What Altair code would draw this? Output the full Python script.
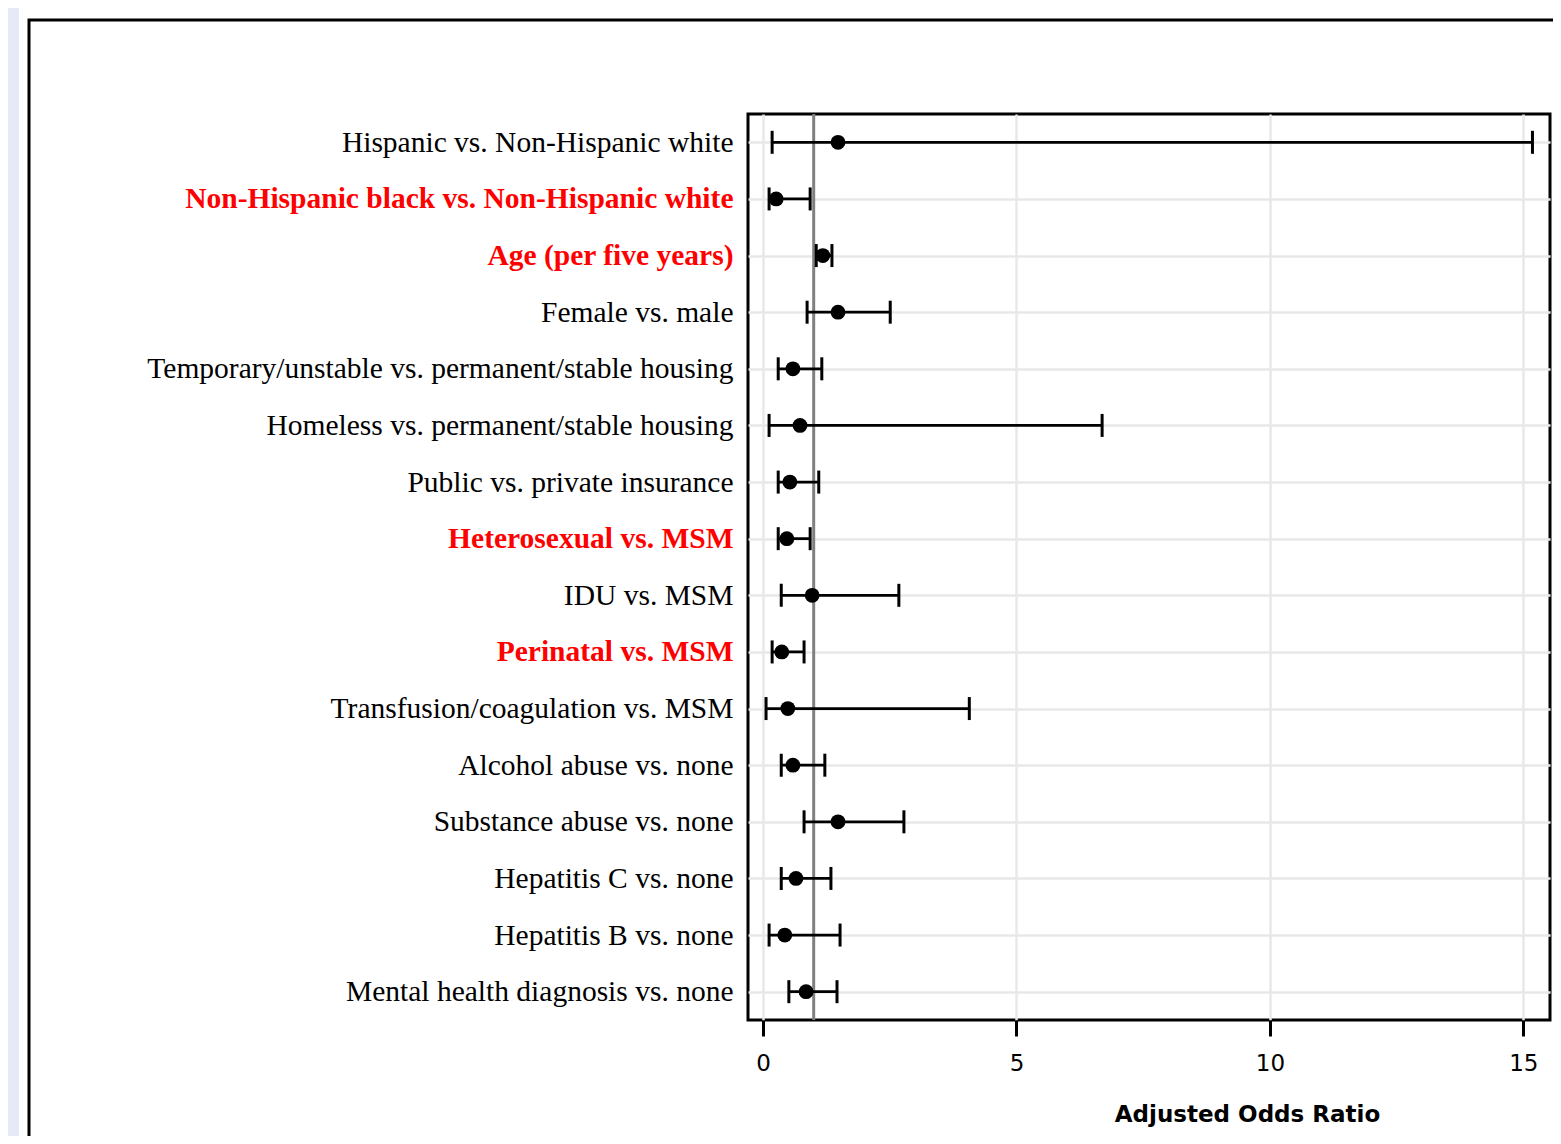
import json
import altair as alt
import pandas as pd

labels = [
    "Hispanic vs. Non-Hispanic white",
    "Non-Hispanic black vs. Non-Hispanic white",
    "Age (per five years)",
    "Female vs. male",
    "Temporary/unstable vs. permanent/stable housing",
    "Homeless vs. permanent/stable housing",
    "Public vs. private insurance",
    "Heterosexual vs. MSM",
    "IDU vs. MSM",
    "Perinatal vs. MSM",
    "Transfusion/coagulation vs. MSM",
    "Alcohol abuse vs. none",
    "Substance abuse vs. none",
    "Hepatitis C vs. none",
    "Hepatitis B vs. none",
    "Mental health diagnosis vs. none",
]
odds = [1.48, 0.26, 1.18, 1.48, 0.59, 0.73, 0.53, 0.47, 0.97, 0.37, 0.49, 0.59, 1.48, 0.65, 0.43, 0.85]
lower = [0.18, 0.12, 1.05, 0.87, 0.30, 0.12, 0.30, 0.30, 0.36, 0.18, 0.06, 0.36, 0.81, 0.36, 0.12, 0.51]
upper = [15.18, 0.93, 1.36, 2.51, 1.16, 6.69, 1.10, 0.93, 2.68, 0.81, 4.07, 1.22, 2.78, 1.34, 1.52, 1.46]
highlighted = [
    "Non-Hispanic black vs. Non-Hispanic white",
    "Age (per five years)",
    "Heterosexual vs. MSM",
    "Perinatal vs. MSM",
]
x_ticks = [0, 5, 10, 15]
reference_value = [1]
x_title = "Adjusted Odds Ratio"

df = pd.DataFrame({"label": labels, "or": odds, "lo": lower, "hi": upper})
ref_df = pd.DataFrame({"ref": reference_value})
one = pd.DataFrame({"a": [0]})

test = "indexof(" + json.dumps(highlighted) + ", datum.value) >= 0"

y_enc = alt.Y(
    "label:N",
    sort=labels,
    title=None,
    scale=alt.Scale(type="point", padding=0.5),
    axis=alt.Axis(
        ticks=False,
        domain=False,
        grid=True,
        gridColor="#e8e8e8",
        gridWidth=2.5,
        labelFont="Liberation Serif",
        labelFontSize=29.5,
        labelPadding=15,
        labelLimit=720,
        labelColor={"condition": {"test": test, "value": "#ff0000"}, "value": "#000000"},
        labelFontWeight={"condition": {"test": test, "value": "bold"}, "value": "normal"},
    ),
)

x_scale = alt.Scale(domain=[-0.296, 15.526], nice=False, zero=False)
x_axis = alt.Axis(
    values=x_ticks,
    grid=True,
    gridColor="#e8e8e8",
    gridWidth=2.5,
    domain=False,
    tickColor="black",
    tickWidth=3,
    tickSize=16,
    labelFont="DejaVu Sans",
    labelFontSize=23,
    labelColor="black",
    labelPadding=16,
    titleFont="DejaVu Sans",
    titleFontSize=23,
    titleFontWeight="bold",
    titleColor="black",
    titleX=499,
    titleY=101,
    titleBaseline="alphabetic",
    titleAlign="center",
)

strip = alt.Chart(one).mark_rect(color="#e6eaf6").encode(
    x=alt.value(-740), x2=alt.value(-729), y=alt.value(-106), y2=alt.value(1022)
)
outer_box = alt.Chart(one).mark_rect(fillOpacity=0, stroke="black", strokeWidth=3).encode(
    x=alt.value(-719), x2=alt.value(900), y=alt.value(-94), y2=alt.value(1100)
)

ref_rule = alt.Chart(ref_df).mark_rule(color="#808080", strokeWidth=3).encode(
    x=alt.X("ref:Q", scale=x_scale, axis=x_axis, title=x_title)
)

bars = alt.Chart(df).mark_rule(color="black", strokeWidth=2.8).encode(
    x=alt.X("lo:Q", scale=x_scale, axis=x_axis, title=x_title), x2="hi:Q", y=y_enc
)
cap_lo = alt.Chart(df).mark_tick(color="black", thickness=3, size=23, opacity=1).encode(
    x=alt.X("lo:Q", scale=x_scale, axis=x_axis, title=x_title), y=y_enc
)
cap_hi = alt.Chart(df).mark_tick(color="black", thickness=3, size=23, opacity=1).encode(
    x=alt.X("hi:Q", scale=x_scale, axis=x_axis, title=x_title), y=y_enc
)
points = alt.Chart(df).mark_circle(color="black", size=220, opacity=1).encode(
    x=alt.X("or:Q", scale=x_scale, axis=x_axis, title=x_title), y=y_enc
)

chart = (
    alt.layer(strip, outer_box, ref_rule, bars, cap_lo, cap_hi, points)
    .properties(
        width=802,
        height=906,
        padding={"left": 740, "top": 106, "right": 3, "bottom": 116},
        autosize=alt.AutoSizeParams(type="none"),
        background="white",
    )
    .configure_view(stroke="black", strokeWidth=3)
)

chart.save("out.html", embed_options={"renderer": "svg", "actions": False})
